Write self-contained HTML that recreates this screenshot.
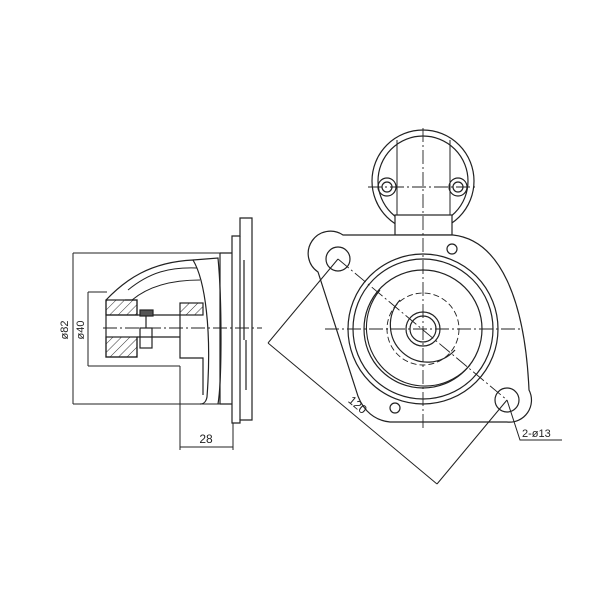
<!DOCTYPE html>
<html><head><meta charset="utf-8"><style>
html,body{margin:0;padding:0;background:#fff}
svg{display:block}
text{font-family:"Liberation Sans",sans-serif;fill:#222}
</style></head><body>
<svg width="600" height="600" viewBox="0 0 600 600" xmlns="http://www.w3.org/2000/svg">
<defs>
<pattern id="h" width="6" height="6" patternUnits="userSpaceOnUse" patternTransform="rotate(45)">
<line x1="0" y1="0" x2="0" y2="6" stroke="#333" stroke-width="1"/></pattern>
</defs>
<g fill="none" stroke="#222" stroke-width="1.2">
<!-- LEFT VIEW -->
<!-- flange plates -->
<path d="M232,236 L240,236 L240,218 L252,218 L252,420 L240,420 L240,423 L232,423 Z"/>
<line x1="240" y1="236" x2="240" y2="420"/>
<line x1="244" y1="260" x2="244" y2="340"/>
<line x1="246" y1="340" x2="246" y2="390"/>
<!-- body box -->
<path d="M220,253 L232,253 M220,404 L232,404 M220,253 L220,404"/>
<!-- nose -->
<path d="M106,300 C125,280 150,262 193,260 C205,280 212,330 207,397 C206,402 204,404 200,404"/>
<path d="M193,260 L218,258 C222,300 222,380 218,404"/>
<path d="M128,290 C150,272 170,267 197,268" stroke-width="1"/>
<path d="M132,300 C150,285 175,280 200,280" stroke-width="1"/>
<path d="M106,300 L106,357 L137,357 L137,337"/>
<rect x="106" y="300" width="31" height="15" fill="url(#h)"/>
<rect x="106" y="337" width="31" height="20" fill="url(#h)"/>
<path d="M125,300 L137,300 L137,315 L106,315"/>
<path d="M137,315 L180,315 M137,337 L180,337 M180,315 L180,337"/>
<rect x="180" y="303" width="23" height="12" fill="url(#h)"/>
<path d="M180,337 L180,358 L203,358 L203,395"/>
<rect x="140" y="328" width="12" height="20"/>
<rect x="140" y="310" width="13" height="6" fill="#555"/>
<line x1="146" y1="316" x2="146" y2="328"/>
<!-- dims left -->
<path d="M73,253 L220,253 M73,404 L220,404 M73,253 L73,404" stroke-width="1"/>
<path d="M88,292 L107,292 M88,366 L180,366 M88,292 L88,366" stroke-width="1"/>
<path d="M180,366 L180,450 M233,423 L233,450 M180,447 L233,447" stroke-width="1"/>
<!-- RIGHT VIEW -->
<circle cx="423" cy="181" r="51"/>
<circle cx="423" cy="181" r="45"/>
<path d="M397,215 L397,140 M450,215 L450,140" stroke-width="1"/>
<circle cx="387" cy="187" r="9"/><circle cx="387" cy="187" r="5"/>
<circle cx="458" cy="187" r="9"/><circle cx="458" cy="187" r="5"/>
<rect x="395" y="215" width="57" height="20" fill="#fff"/>
<path d="M343,235 L453,235 C500,240 525,300 529,390 A22,22 0 0 1 507,422 L390,422 C370,420 360,405 356,390 L318,272 A22,22 0 0 1 343,235 Z" fill="#fff"/>
<circle cx="338" cy="259" r="12"/>
<circle cx="507" cy="400" r="12"/>
<circle cx="452" cy="249" r="5"/>
<circle cx="395" cy="408" r="5"/>
<circle cx="423" cy="329" r="75"/>
<circle cx="423" cy="329" r="70"/>
<circle cx="423" cy="329" r="59"/>
<path d="M380,290 A55,55 0 0 0 470,365" stroke-width="1.1"/>
<path d="M400,300 A36,36 0 0 0 455,350"/>
<circle cx="423" cy="329" r="36" stroke-dasharray="6,3" stroke-width="0.9"/>
<circle cx="423" cy="329" r="17"/>
<circle cx="423" cy="329" r="13"/>
<!-- centerlines -->
<g stroke-width="0.9" stroke-dasharray="14,3,2,3">
<line x1="103" y1="328" x2="262" y2="328"/>
<line x1="325" y1="329" x2="522" y2="329"/>
<line x1="423" y1="128" x2="423" y2="428"/>
<line x1="368" y1="187" x2="478" y2="187"/>
<line x1="338" y1="259" x2="507" y2="400"/>
</g>
<!-- dim 120 -->
<path d="M338,259 L268,343 M507,400 L437,484 M268,343 L437,484" stroke-width="1"/>
<path d="M507,400 L520,440 L562,440" stroke-width="1"/>
</g>
<text x="206" y="443" font-size="12" text-anchor="middle">28</text>
<text transform="translate(68,330) rotate(-90)" font-size="11" text-anchor="middle">ø82</text>
<text transform="translate(84,330) rotate(-90)" font-size="11" text-anchor="middle">ø40</text>
<text transform="translate(355,408) rotate(40)" font-size="12" text-anchor="middle">120</text>
<text x="522" y="437" font-size="11">2-ø13</text>
</svg>
</body></html>
